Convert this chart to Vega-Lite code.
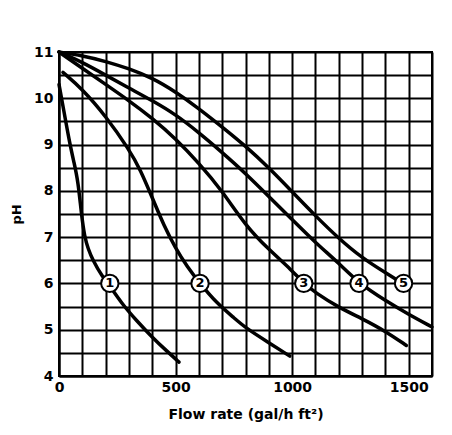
{
  "$schema": "https://vega.github.io/schema/vega-lite/v6.json",
  "autosize": {"type": "none"},
  "padding": {"left": 59, "top": 52, "right": 20, "bottom": 60},
  "width": 373,
  "height": 324,
  "background": "white",
  "config": {
    "view": {"stroke": "black", "strokeWidth": 2},
    "font": "DejaVu Sans"
  },
  "datasets": {
    "curves": [
      {"curve": "1", "flow": 0, "pH": 10.3},
      {"curve": "1", "flow": 20, "pH": 9.75},
      {"curve": "1", "flow": 45, "pH": 9.05},
      {"curve": "1", "flow": 65, "pH": 8.6},
      {"curve": "1", "flow": 82, "pH": 8.2},
      {"curve": "1", "flow": 96, "pH": 7.5},
      {"curve": "1", "flow": 110, "pH": 7.0},
      {"curve": "1", "flow": 125, "pH": 6.75},
      {"curve": "1", "flow": 145, "pH": 6.5},
      {"curve": "1", "flow": 185, "pH": 6.15},
      {"curve": "1", "flow": 218, "pH": 5.95},
      {"curve": "1", "flow": 267, "pH": 5.58},
      {"curve": "1", "flow": 332, "pH": 5.2},
      {"curve": "1", "flow": 403, "pH": 4.82},
      {"curve": "1", "flow": 460, "pH": 4.55},
      {"curve": "1", "flow": 515, "pH": 4.3},
      {"curve": "2", "flow": 17, "pH": 10.56},
      {"curve": "2", "flow": 100, "pH": 10.2},
      {"curve": "2", "flow": 200, "pH": 9.62},
      {"curve": "2", "flow": 300, "pH": 8.9},
      {"curve": "2", "flow": 350, "pH": 8.45},
      {"curve": "2", "flow": 400, "pH": 7.85},
      {"curve": "2", "flow": 450, "pH": 7.25},
      {"curve": "2", "flow": 500, "pH": 6.76},
      {"curve": "2", "flow": 550, "pH": 6.36},
      {"curve": "2", "flow": 605, "pH": 6.0},
      {"curve": "2", "flow": 675, "pH": 5.58},
      {"curve": "2", "flow": 750, "pH": 5.26},
      {"curve": "2", "flow": 800, "pH": 5.04},
      {"curve": "2", "flow": 900, "pH": 4.72},
      {"curve": "2", "flow": 990, "pH": 4.43},
      {"curve": "3", "flow": 0, "pH": 11.0},
      {"curve": "3", "flow": 100, "pH": 10.65},
      {"curve": "3", "flow": 200, "pH": 10.3},
      {"curve": "3", "flow": 300, "pH": 9.95},
      {"curve": "3", "flow": 400, "pH": 9.57},
      {"curve": "3", "flow": 500, "pH": 9.13},
      {"curve": "3", "flow": 600, "pH": 8.6},
      {"curve": "3", "flow": 700, "pH": 8.0},
      {"curve": "3", "flow": 800, "pH": 7.25},
      {"curve": "3", "flow": 900, "pH": 6.73},
      {"curve": "3", "flow": 1000, "pH": 6.28},
      {"curve": "3", "flow": 1050, "pH": 6.0},
      {"curve": "3", "flow": 1100, "pH": 5.8},
      {"curve": "3", "flow": 1200, "pH": 5.48},
      {"curve": "3", "flow": 1300, "pH": 5.24},
      {"curve": "3", "flow": 1400, "pH": 4.97},
      {"curve": "3", "flow": 1490, "pH": 4.66},
      {"curve": "4", "flow": 0, "pH": 11.0},
      {"curve": "4", "flow": 100, "pH": 10.78},
      {"curve": "4", "flow": 200, "pH": 10.5},
      {"curve": "4", "flow": 300, "pH": 10.22},
      {"curve": "4", "flow": 400, "pH": 9.95},
      {"curve": "4", "flow": 500, "pH": 9.65},
      {"curve": "4", "flow": 600, "pH": 9.26},
      {"curve": "4", "flow": 700, "pH": 8.83},
      {"curve": "4", "flow": 800, "pH": 8.38},
      {"curve": "4", "flow": 900, "pH": 7.88},
      {"curve": "4", "flow": 1000, "pH": 7.38},
      {"curve": "4", "flow": 1100, "pH": 6.88},
      {"curve": "4", "flow": 1200, "pH": 6.44},
      {"curve": "4", "flow": 1287, "pH": 6.0},
      {"curve": "4", "flow": 1400, "pH": 5.63},
      {"curve": "4", "flow": 1500, "pH": 5.33},
      {"curve": "4", "flow": 1600, "pH": 5.06},
      {"curve": "5", "flow": 0, "pH": 11.0},
      {"curve": "5", "flow": 100, "pH": 10.92},
      {"curve": "5", "flow": 200, "pH": 10.8},
      {"curve": "5", "flow": 300, "pH": 10.64},
      {"curve": "5", "flow": 400, "pH": 10.44},
      {"curve": "5", "flow": 500, "pH": 10.14},
      {"curve": "5", "flow": 600, "pH": 9.78},
      {"curve": "5", "flow": 700, "pH": 9.38},
      {"curve": "5", "flow": 800, "pH": 8.97},
      {"curve": "5", "flow": 900, "pH": 8.5},
      {"curve": "5", "flow": 1000, "pH": 7.98},
      {"curve": "5", "flow": 1100, "pH": 7.46},
      {"curve": "5", "flow": 1200, "pH": 6.97},
      {"curve": "5", "flow": 1300, "pH": 6.55},
      {"curve": "5", "flow": 1400, "pH": 6.23},
      {"curve": "5", "flow": 1475, "pH": 6.0}
    ],
    "labels": [
      {"curve": "1", "flow": 218, "pH": 6.0},
      {"curve": "2", "flow": 605, "pH": 6.0},
      {"curve": "3", "flow": 1050, "pH": 6.0},
      {"curve": "4", "flow": 1287, "pH": 6.0},
      {"curve": "5", "flow": 1478, "pH": 6.0}
    ]
  },
  "encoding": {
    "x": {
      "field": "flow",
      "type": "quantitative",
      "scale": {"domain": [0, 1600], "nice": false, "zero": false},
      "axis": {
        "title": "Flow rate (gal/h ft²)",
        "values": [0, 100, 200, 300, 400, 500, 600, 700, 800, 900, 1000, 1100, 1200, 1300, 1400, 1500, 1600],
        "labelExpr": "datum.value % 500 === 0 ? format(datum.value, 'd') : ''",
        "grid": true,
        "gridColor": "black",
        "gridWidth": 2,
        "gridOpacity": 1,
        "ticks": false,
        "domainColor": "black",
        "domainWidth": 2,
        "labelFlush": false,
        "labelOverlap": false,
        "labelFont": "DejaVu Sans",
        "labelFontWeight": "bold",
        "labelFontSize": 14,
        "labelColor": "black",
        "labelPadding": 4,
        "titleFont": "DejaVu Sans",
        "titleFontWeight": "bold",
        "titleFontSize": 14,
        "titleColor": "black",
        "titlePadding": 13
      }
    },
    "y": {
      "field": "pH",
      "type": "quantitative",
      "scale": {"domain": [4, 11], "nice": false, "zero": false},
      "axis": {
        "title": "pH",
        "values": [4, 4.5, 5, 5.5, 6, 6.5, 7, 7.5, 8, 8.5, 9, 9.5, 10, 10.5, 11],
        "labelExpr": "datum.value % 1 === 0 ? format(datum.value, 'd') : ''",
        "grid": true,
        "gridColor": "black",
        "gridWidth": 2,
        "gridOpacity": 1,
        "ticks": false,
        "domainColor": "black",
        "domainWidth": 2,
        "labelFlush": false,
        "labelOverlap": false,
        "labelFont": "DejaVu Sans",
        "labelFontWeight": "bold",
        "labelFontSize": 14,
        "labelColor": "black",
        "labelPadding": 6,
        "titleFont": "DejaVu Sans",
        "titleFontWeight": "bold",
        "titleFontSize": 13,
        "titleColor": "black",
        "titlePadding": 10
      }
    }
  },
  "layer": [
    {
      "data": {"name": "curves"},
      "mark": {"type": "line", "interpolate": "basis", "color": "black", "strokeWidth": 3.5, "strokeCap": "round"},
      "encoding": {"detail": {"field": "curve", "type": "nominal"}}
    },
    {
      "data": {"name": "labels"},
      "mark": {"type": "point", "shape": "circle", "filled": false, "fill": "white", "fillOpacity": 1, "stroke": "black", "strokeWidth": 2, "size": 300, "opacity": 1}
    },
    {
      "data": {"name": "labels"},
      "mark": {"type": "text", "font": "DejaVu Sans", "fontWeight": "bold", "fontSize": 13, "color": "black", "align": "center", "baseline": "middle"},
      "encoding": {"text": {"field": "curve", "type": "nominal"}}
    }
  ]
}
